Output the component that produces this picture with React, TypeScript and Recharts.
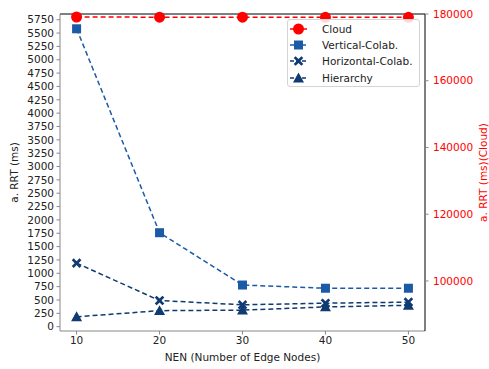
import React from "react";
import { LineChart, Line, XAxis, YAxis, ReferenceLine } from "recharts";

// Number of edge nodes (x positions)
const nen = [10, 20, 30, 40, 50];
// Average RRT in ms
const cloud = [179100, 179050, 179050, 179000, 179000];
const verticalColab = [5580, 1760, 780, 720, 720];
const horizontalColab = [1190, 490, 410, 440, 460];
const hierarchy = [185, 300, 310, 370, 400];

const leftTicks = [
  0, 250, 500, 750, 1000, 1250, 1500, 1750, 2000, 2250, 2500, 2750, 3000, 3250,
  3500, 3750, 4000, 4250, 4500, 4750, 5000, 5250, 5500, 5750,
];
const rightTicks = [100000, 120000, 140000, 160000, 180000];

const seriesNames = ["Cloud", "Vertical-Colab.", "Horizontal-Colab.", "Hierarchy"];

const RED = "#ff0000";
const BLUE = "#1a5aa6";
const NAVY = "#0f3a72";
const FONT = "DejaVu Sans, sans-serif";

const data = nen.map((n, i) => ({
  nen: n,
  cloud: cloud[i],
  vertical: verticalColab[i],
  horizontal: horizontalColab[i],
  hierarchy: hierarchy[i],
}));

type Shape = "circle" | "square" | "x" | "triangle";

function Marker({ cx, cy, shape, color }: { cx: number; cy: number; shape: Shape; color: string }) {
  if (shape === "circle") return <circle cx={cx} cy={cy} r={5.5} fill={color} />;
  if (shape === "square")
    return <rect x={cx - 4.5} y={cy - 4.5} width={9} height={9} fill={color} />;
  if (shape === "triangle") {
    const r = 5.5;
    return (
      <polygon
        points={`${cx},${cy - r} ${cx + r},${cy + r * 0.8} ${cx - r},${cy + r * 0.8}`}
        fill={color}
      />
    );
  }
  // filled "X" marker
  const a = 4.8;
  const w = 1.9;
  const pts = [
    [-a + w, -a], [0, -w], [a - w, -a], [a, -a + w], [w, 0], [a, a - w],
    [a - w, a], [0, w], [-a + w, a], [-a, a - w], [-w, 0], [-a, -a + w],
  ]
    .map(([x, y]) => `${cx + x},${cy + y}`)
    .join(" ");
  return <polygon points={pts} fill={color} />;
}

const makeDot = (shape: Shape, color: string) => (props: any) => {
  const { cx, cy, index } = props;
  if (cx == null || cy == null) return <g key={index} />;
  return <Marker key={index} cx={cx} cy={cy} shape={shape} color={color} />;
};

const legendItems: { name: string; shape: Shape; color: string }[] = [
  { name: seriesNames[0], shape: "circle", color: RED },
  { name: seriesNames[1], shape: "square", color: BLUE },
  { name: seriesNames[2], shape: "x", color: NAVY },
  { name: seriesNames[3], shape: "triangle", color: NAVY },
];

const tickStyle = { fontSize: 10.5, fontFamily: FONT, fill: "#222" };

export default function App() {
  return (
    <div style={{ position: "absolute", left: 0, top: 0, width: 489, height: 369, background: "#fff" }}>
      <LineChart
        width={489}
        height={369}
        data={data}
        margin={{ top: 14, right: 0, left: 0, bottom: 0 }}
      >
        <XAxis
          dataKey="nen"
          type="number"
          domain={[8, 52]}
          ticks={nen}
          height={38}
          stroke="#888"
          tickSize={3.5}
          tickMargin={2.5}
          tick={tickStyle}
          label={{
            content: (p: any) => {
              const vb = p.viewBox;
              return (
                <text
                  x={vb.x + vb.width / 2}
                  y={361}
                  textAnchor="middle"
                  fontSize={10.5}
                  fontFamily={FONT}
                  fill="#222"
                >
                  NEN (Number of Edge Nodes)
                </text>
              );
            },
          }}
        />
        <YAxis
          yAxisId="left"
          domain={[-81, 5857]}
          ticks={leftTicks}
          width={60}
          stroke="#888"
          tickSize={3.5}
          tickMargin={2.5}
          tick={tickStyle}
          interval={0}
          label={{
            content: (p: any) => {
              const vb = p.viewBox;
              const cy = vb.y + vb.height / 2;
              return (
                <text
                  x={18}
                  y={cy}
                  transform={`rotate(-90 18 ${cy})`}
                  textAnchor="middle"
                  fontSize={10.5}
                  fontFamily={FONT}
                  fill="#222"
                >
                  a. RRT (ms)
                </text>
              );
            },
          }}
        />
        <YAxis
          yAxisId="right"
          orientation="right"
          domain={[85000, 180000]}
          ticks={rightTicks}
          width={64}
          stroke="#000"
          tickLine={{ stroke: "#888" }}
          tickSize={3.5}
          tickMargin={4.5}
          tick={{ ...tickStyle, fill: RED }}
          interval={0}
          label={{
            content: (p: any) => {
              const vb = p.viewBox;
              const cy = vb.y + vb.height / 2;
              return (
                <text
                  x={487}
                  y={cy}
                  transform={`rotate(-90 487 ${cy})`}
                  textAnchor="middle"
                  fontSize={10.5}
                  fontFamily={FONT}
                  fill={RED}
                >
                  a. RRT (ms)(Cloud)
                </text>
              );
            },
          }}
        />
        {/* top frame line */}
        <ReferenceLine yAxisId="right" y={180000} stroke="#000" strokeWidth={1} ifOverflow="extendDomain" />
        <Line
          yAxisId="left"
          dataKey="hierarchy"
          stroke={NAVY}
          strokeWidth={1.5}
          strokeDasharray="5 3"
          dot={makeDot("triangle", NAVY)}
          isAnimationActive={false}
        />
        <Line
          yAxisId="left"
          dataKey="horizontal"
          stroke={NAVY}
          strokeWidth={1.5}
          strokeDasharray="5 3"
          dot={makeDot("x", NAVY)}
          isAnimationActive={false}
        />
        <Line
          yAxisId="left"
          dataKey="vertical"
          stroke={BLUE}
          strokeWidth={1.5}
          strokeDasharray="5 3"
          dot={makeDot("square", BLUE)}
          isAnimationActive={false}
        />
        <Line
          yAxisId="right"
          dataKey="cloud"
          stroke={RED}
          strokeWidth={1.5}
          strokeDasharray="5 3"
          dot={makeDot("circle", RED)}
          isAnimationActive={false}
        />
      </LineChart>
      <div
        style={{
          position: "absolute",
          left: 287,
          top: 19,
          width: 133,
          height: 68,
          boxSizing: "border-box",
          border: "1px solid #d4d4d4",
          borderRadius: 3,
          background: "rgba(255,255,255,0.85)",
          fontFamily: FONT,
          fontSize: 10.5,
          color: "#222",
          paddingTop: 1,
        }}
      >
        {legendItems.map((it) => (
          <div key={it.name} style={{ display: "flex", alignItems: "center", height: 16.2 }}>
            <svg width={32} height={14} style={{ flex: "none" }}>
              <line
                x1={2}
                x2={19}
                y1={7}
                y2={7}
                stroke={it.color}
                strokeWidth={1.5}
                strokeDasharray={it.shape === "circle" ? "6 0" : "4 2"}
              />
              <Marker cx={10.5} cy={7} shape={it.shape} color={it.color} />
            </svg>
            <span style={{ marginLeft: 2, whiteSpace: "nowrap" }}>{it.name}</span>
          </div>
        ))}
      </div>
    </div>
  );
}
